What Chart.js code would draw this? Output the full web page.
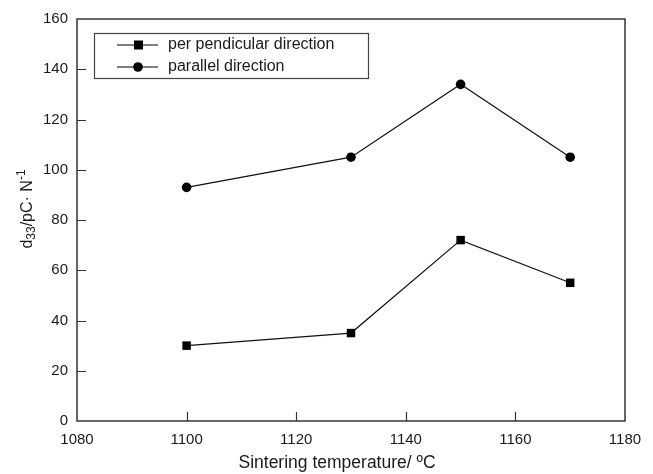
<!DOCTYPE html>
<html lang="en">
<head>
  <meta charset="UTF-8">
  <title>d33 vs sintering temperature</title>
  <script src="https://cdn.jsdelivr.net/npm/chart.js"></script>
  <style>
    html, body { margin: 0; padding: 0; background: #ffffff; }
    #box { width: 653px; height: 474px; }
  </style>
</head>
<body>
  <div id="box"><canvas id="grafico"></canvas></div>

<script>
  // dados
  var temperaturas = [1100, 1130, 1150, 1170];
  var perpendicular = [30, 35, 72, 55];
  var paralelo = [93, 105, 134, 105];
  var xTicks = [1080, 1100, 1120, 1140, 1160, 1180];
  var yTicks = [0, 20, 40, 60, 80, 100, 120, 140, 160];
  var nomes = ['per pendicular direction', 'parallel direction'];

  var FONTE = 'Arial, "Liberation Sans", sans-serif';
  var COR_EIXO = '#333333';
  var COR_TEXTO = '#1a1a1a';

  function pontos(vals) {
    return temperaturas.map(function (t, i) { return { x: t, y: vals[i] }; });
  }

  // moldura, marcas para dentro, legenda e títulos dos eixos
  var molduraPlugin = {
    id: 'moldura',
    afterDraw: function (chart) {
      var ctx = chart.ctx;
      var a = chart.chartArea;
      var sx = chart.scales.x, sy = chart.scales.y;
      ctx.save();
      ctx.strokeStyle = COR_EIXO;
      ctx.lineWidth = 1.5;
      ctx.strokeRect(a.left, a.top, a.right - a.left, a.bottom - a.top);

      // ticks internos
      ctx.lineWidth = 1.2;
      ctx.beginPath();
      yTicks.slice(1, -1).forEach(function (v) {
        var y = Math.round(sy.getPixelForValue(v)) + 0.5;
        ctx.moveTo(a.left, y); ctx.lineTo(a.left + 9, y);
      });
      xTicks.slice(1, -1).forEach(function (v) {
        var x = Math.round(sx.getPixelForValue(v)) + 0.5;
        ctx.moveTo(x, a.bottom); ctx.lineTo(x, a.bottom - 9);
      });
      ctx.stroke();

      // legenda
      var lx = a.left + 17, ly = 33, lw = 274, lh = 45;
      ctx.lineWidth = 1.2;
      ctx.strokeStyle = '#444444';
      ctx.strokeRect(lx + 0.5, ly + 0.5, lw, lh);
      chart.data.datasets.forEach(function (ds, i) {
        var yy = ly + 12 + i * 22;
        ctx.strokeStyle = '#000';
        ctx.lineWidth = 1;
        ctx.beginPath();
        ctx.moveTo(lx + 23, yy); ctx.lineTo(lx + 64, yy);
        ctx.stroke();
        ctx.fillStyle = '#000';
        if (ds.pointStyle === 'rect') {
          ctx.fillRect(lx + 40, yy - 4.5, 9, 9);
        } else {
          ctx.beginPath();
          ctx.arc(lx + 44, yy, 4.8, 0, Math.PI * 2);
          ctx.fill();
        }
        ctx.fillStyle = COR_TEXTO;
        ctx.font = '16px ' + FONTE;
        ctx.textBaseline = 'middle';
        ctx.textAlign = 'left';
        ctx.fillText(ds.label, lx + 74, yy);
      });

      // título do eixo x
      ctx.fillStyle = COR_TEXTO;
      ctx.font = '17.5px ' + FONTE;
      ctx.textAlign = 'center';
      ctx.textBaseline = 'middle';
      ctx.fillText('Sintering temperature/ ºC', (a.left + a.right) / 2 - 14, 463);

      // título do eixo y com subscrito e sobrescrito
      ctx.translate(28, (a.top + a.bottom) / 2 - 11);
      ctx.rotate(-Math.PI / 2);
      var partes = [
        { t: 'd', f: 16, dy: 0 },
        { t: '33', f: 12, dy: 4 },
        { t: '/pC· N', f: 16, dy: 0 },
        { t: '-1', f: 12, dy: -6 }
      ];
      var total = 0;
      partes.forEach(function (p) { ctx.font = p.f + 'px ' + FONTE; total += ctx.measureText(p.t).width; });
      var px = -total / 2;
      ctx.textAlign = 'left';
      partes.forEach(function (p) {
        ctx.font = p.f + 'px ' + FONTE;
        ctx.fillText(p.t, px, p.dy);
        px += ctx.measureText(p.t).width;
      });
      ctx.restore();
    }
  };

  var ctx = document.getElementById('grafico').getContext('2d');

  var config = {
    type: 'line',
    data: {
      datasets: [
        {
          label: nomes[0],
          data: pontos(perpendicular),
          borderColor: '#111111',
          backgroundColor: '#000000',
          borderWidth: 1.2,
          pointStyle: 'rect',
          pointRadius: 6,
          pointBorderWidth: 0,
          tension: 0
        },
        {
          label: nomes[1],
          data: pontos(paralelo),
          borderColor: '#111111',
          backgroundColor: '#000000',
          borderWidth: 1.2,
          pointStyle: 'circle',
          pointRadius: 4.8,
          pointBorderWidth: 0,
          tension: 0
        }
      ]
    },
    options: {
      responsive: false,
      animation: false,
      devicePixelRatio: 1,
      layout: { padding: { top: 19, right: 28, left: 0, bottom: 0 } },
      scales: {
        x: {
          type: 'linear',
          min: xTicks[0],
          max: xTicks[xTicks.length - 1],
          afterBuildTicks: function (s) { s.ticks = xTicks.map(function (v) { return { value: v }; }); },
          afterFit: function (s) { s.height = 53; },
          grid: { display: false, tickLength: 0 },
          border: { display: false },
          ticks: {
            color: COR_TEXTO, font: { size: 15, family: FONTE }, padding: 10, maxRotation: 0,
            callback: function (v) { return String(v); }
          }
        },
        y: {
          min: yTicks[0],
          max: yTicks[yTicks.length - 1],
          afterBuildTicks: function (s) { s.ticks = yTicks.map(function (v) { return { value: v }; }); },
          afterFit: function (s) { s.width = 77; },
          grid: { display: false, tickLength: 0 },
          border: { display: false },
          ticks: {
            color: COR_TEXTO, font: { size: 15, family: FONTE }, padding: 9,
            callback: function (v) { return String(v); }
          }
        }
      },
      plugins: {
        legend: { display: false },
        tooltip: { enabled: false }
      }
    },
    plugins: [molduraPlugin]
  };

  var canvas = document.getElementById('grafico');
  canvas.width = 653;
  canvas.height = 474;
  new Chart(ctx, config);
</script>
</body>
</html>
